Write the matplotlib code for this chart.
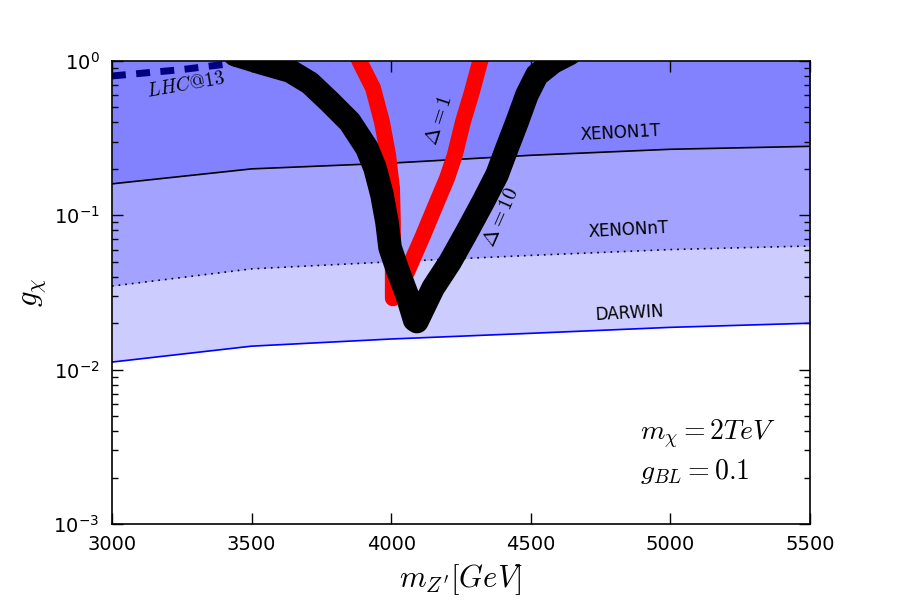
import matplotlib
matplotlib.use("Agg")
import matplotlib.pyplot as plt
import numpy as np

plt.rcParams['mathtext.fontset'] = 'cm'
plt.rcParams['font.family'] = ['DejaVu Sans']

# Detector limits
det_x = [3000, 3500, 4000, 4500, 5000, 5500]
xenon1t = [0.160, 0.200, 0.218, 0.245, 0.268, 0.280]
xenonnt = [0.0348, 0.0450, 0.0500, 0.0550, 0.0600, 0.0633]
darwin = [0.0112, 0.0142, 0.0158, 0.0172, 0.0188, 0.0200]

# LHC@13
lhc_x = [3000, 3250, 3500]
lhc_y = [0.80, 0.88, 1.0]

# Delta = 10 (black)
d10_x = [3440, 3537, 3638, 3709, 3781, 3852, 3913, 3942, 3967, 3985, 3996, 4021, 4057,
         4084, 4092, 4150, 4211, 4271, 4329, 4379, 4415, 4451, 4486, 4522, 4580, 4640]
d10_y = [1.10, 0.971, 0.861, 0.720, 0.542, 0.403, 0.273, 0.203, 0.136, 0.0903, 0.0618,
         0.0454, 0.0305, 0.0210, 0.0205, 0.0338, 0.0499, 0.078, 0.122, 0.183, 0.273,
         0.403, 0.602, 0.812, 0.985, 1.12]

# Delta = 1 (red), two branches
d1a_x = [3875, 3888, 3935, 3967, 3989, 4003, 4006, 4006, 4006]
d1a_y = [1.12, 0.985, 0.668, 0.403, 0.246, 0.150, 0.0903, 0.0554, 0.0290]
d1b_x = [4035, 4057, 4114, 4164, 4200, 4228, 4257, 4289, 4318, 4328]
d1b_y = [0.036, 0.043, 0.074, 0.122, 0.174, 0.246, 0.403, 0.629, 0.985, 1.12]

fig = plt.figure(figsize=(9, 6), dpi=100, facecolor='white')
ax = fig.add_axes([0.1244, 0.1267, 0.7756, 0.7716])

for curve in (darwin, xenonnt, xenon1t):
    ax.fill_between(det_x, curve, 1.0, color='blue', alpha=0.2, linewidth=0)

ax.plot(det_x, xenon1t, color='black', lw=1.2)
ax.plot(det_x, xenonnt, color='black', lw=1.2, ls=(0, (1, 3)))
ax.plot(det_x, darwin, color='blue', lw=1.2)

ax.plot(lhc_x, lhc_y, color='#000080', lw=5, ls=(0, (2, 1.5)))

for xs, ys in ((d1a_x, d1a_y), (d1b_x, d1b_y)):
    ax.plot(xs, ys, color='red', lw=11.5, solid_capstyle='round', solid_joinstyle='round')
ax.plot(d10_x, d10_y, color='black', lw=17, solid_capstyle='round', solid_joinstyle='round')

ax.set_yscale('log')
ax.set_xlim(3000, 5500)
ax.set_ylim(1e-3, 1)

ax.text(3120, 0.70, r'$LHC@13$', fontsize=14, rotation=10, ha='left', va='center')
ax.text(4168, 0.414, r'$\Delta=1$', fontsize=15, rotation=72, ha='center', va='center')
ax.text(4390, 0.0975, r'$\Delta=10$', fontsize=15, rotation=66, ha='center', va='center')
ax.text(4820, 0.341, 'XENON1T', fontsize=12, rotation=3, ha='center', va='center')
ax.text(4848, 0.080, 'XENONnT', fontsize=12, rotation=3, ha='center', va='center')
ax.text(4855, 0.0233, 'DARWIN', fontsize=12, rotation=3, ha='center', va='center')
ax.text(4890, 0.0038, r'$m_\chi = 2TeV$', fontsize=20, ha='left', va='center')
ax.text(4890, 0.0022, r'$g_{BL} = 0.1$', fontsize=20, ha='left', va='center')

ax.set_xlabel(r"$m_{Z'}[GeV]$", fontsize=22, labelpad=6)
ax.set_ylabel(r'$g_\chi$', fontsize=22, labelpad=4)

ax.tick_params(which='both', direction='in', top=True, right=True, labelsize=14)
ax.tick_params(which='major', length=8, width=1)
ax.tick_params(which='minor', length=4, width=1)
ax.tick_params(axis='x', which='both', pad=8)
ax.tick_params(axis='y', which='both', pad=9)
for s in ax.spines.values():
    s.set_linewidth(1.2)

fig.savefig('out.png', dpi=100, facecolor='white')
